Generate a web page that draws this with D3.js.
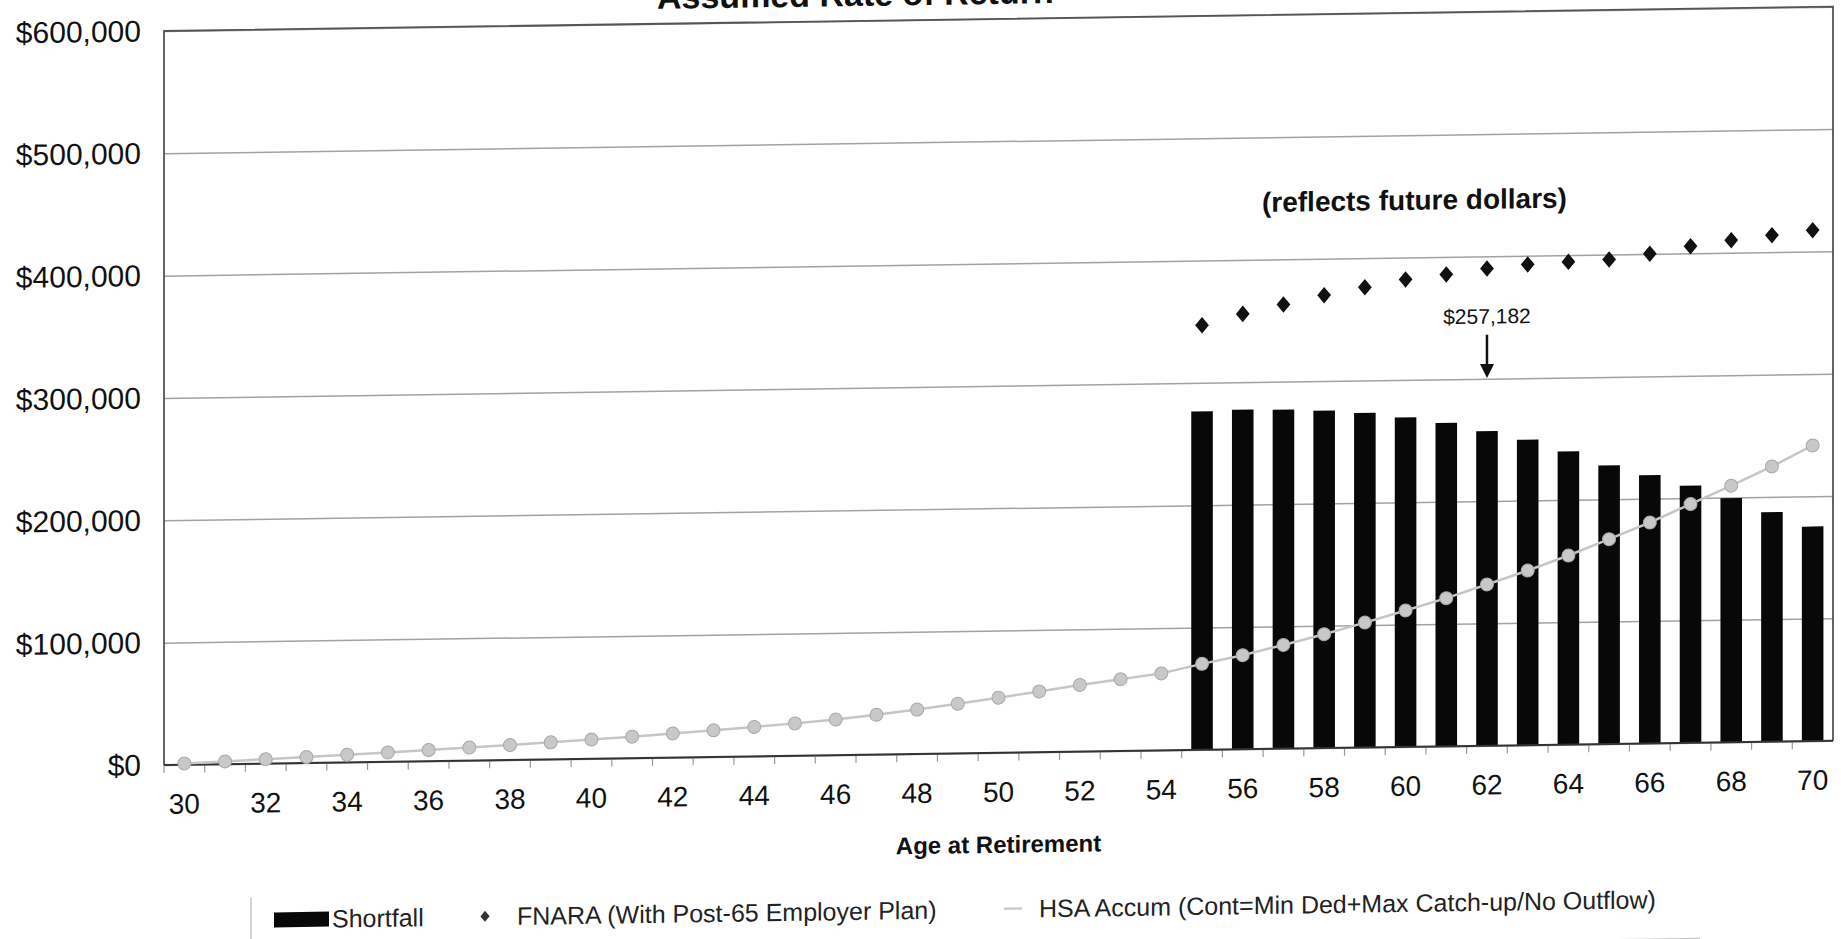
<!DOCTYPE html>
<html>
<head>
<meta charset="utf-8">
<script src="https://cdn.jsdelivr.net/npm/d3@7"></script>
<style>
  body { margin: 0; background: #fff; }
  svg { display: block; font-family: "Liberation Sans", Arial, sans-serif; }
</style>
</head>
<body>
<svg id="Graph"></svg>
<script>
// data
const ages = [30, 31, 32, 33, 34, 35, 36, 37, 38, 39, 40, 41, 42, 43, 44, 45, 46, 47, 48, 49,
              50, 51, 52, 53, 54, 55, 56, 57, 58, 59, 60, 61, 62, 63, 64, 65, 66, 67, 68, 69, 70];
const tickAges = [30, 32, 34, 36, 38, 40, 42, 44, 46, 48, 50, 52, 54, 56, 58, 60, 62, 64, 66, 68, 70];
const yTicks = [0, 100000, 200000, 300000, 400000, 500000, 600000];

const shortfallAges = [55, 56, 57, 58, 59, 60, 61, 62, 63, 64, 65, 66, 67, 68, 69, 70];
const shortfall = [276700, 277600, 277100, 275800, 273500, 269400, 264300, 257182,
                   249700, 239600, 227700, 219300, 210100, 199500, 187600, 175300];
const fnara = [347100, 355900, 363100, 370200, 376200, 382100, 385700, 390100,
               392900, 394600, 396000, 400200, 405900, 410300, 413900, 417500];
const hsaAccum = [1000, 2200, 3500, 4800, 6200, 7600, 9100, 10600, 12200, 13900,
                  15700, 17600, 19700, 21800, 24100, 26500, 29100, 32500, 36300, 40600,
                  45100, 49700, 54500, 58700, 63000, 70300, 76900, 84800, 93100, 102100,
                  111500, 121100, 131800, 142700, 154500, 167400, 180500, 195100, 209600,
                  224900, 241600];

const legendNames = ["Shortfall", "FNARA (With Post-65 Employer Plan)",
                     "HSA Accum (Cont=Min Ded+Max Catch-up/No Outflow)"];

const w = 1841;
const h = 939;
const plotLeft = 164, plotRight = 1833, plotTop = 31, plotBottom = 765;
// the scan is slightly skewed: horizontal lines climb to the right
const slope = -0.01459;
const skewDeg = Math.atan(slope) * 180 / Math.PI;

const svg = d3.select("#Graph")
    .attr("width", w)
    .attr("height", h);

const g = svg.append("g")
    .attr("transform", "translate(0," + (-slope * plotLeft) + ") skewY(" + skewDeg + ")");

// scales
const xScale = d3.scaleBand()
    .domain(ages)
    .range([plotLeft, plotRight])
    .paddingInner(0.47)
    .paddingOuter(0.235);
const yScale = d3.scaleLinear()
    .domain([0, 600000])
    .range([plotBottom, plotTop]);
const cx = a => xScale(a) + xScale.bandwidth() / 2;

// grid + y labels
const yAxis = g.append("g")
    .attr("transform", "translate(" + plotLeft + ",0)")
    .call(d3.axisLeft(yScale)
        .tickValues(yTicks)
        .tickSize(-(plotRight - plotLeft))
        .tickPadding(23)
        .tickFormat(d => "$" + d3.format(",")(d)));
yAxis.select(".domain").remove();
yAxis.selectAll("line").attr("stroke", "#a2a2a2").attr("stroke-width", 1.5);
yAxis.selectAll("text")
    .attr("font-size", "30px")
    .attr("fill", "#111")
    .attr("font-family", "Liberation Sans, Arial, sans-serif");

// x labels
const xAxis = g.append("g")
    .attr("transform", "translate(0," + plotBottom + ")")
    .call(d3.axisBottom(xScale).tickValues(tickAges).tickSize(0).tickPadding(29));
xAxis.select(".domain").remove();
xAxis.selectAll("text")
    .attr("font-size", "28px")
    .attr("fill", "#111")
    .attr("font-family", "Liberation Sans, Arial, sans-serif");

// small tick marks between categories
const step = xScale.step();
g.append("g").selectAll("line")
    .data(ages)
    .enter()
    .append("line")
    .attr("x1", d => cx(d) - step / 2)
    .attr("x2", d => cx(d) - step / 2)
    .attr("y1", plotBottom)
    .attr("y2", plotBottom + 8)
    .attr("stroke", "#999")
    .attr("stroke-width", 1.2);

// bars
g.append("g").selectAll("rect")
    .data(shortfallAges)
    .enter()
    .append("rect")
    .attr("x", d => xScale(d))
    .attr("y", (d, i) => yScale(shortfall[i]))
    .attr("width", xScale.bandwidth())
    .attr("height", (d, i) => yScale(0) - yScale(shortfall[i]))
    .attr("fill", "#080808");

// frame
g.append("path")
    .attr("d", "M" + plotLeft + "," + plotBottom + "V" + plotTop + "H" + plotRight + "V" + plotBottom)
    .attr("fill", "none")
    .attr("stroke", "#555")
    .attr("stroke-width", 1.8);
g.append("line")
    .attr("x1", plotLeft).attr("x2", plotRight)
    .attr("y1", plotBottom).attr("y2", plotBottom)
    .attr("stroke", "#333")
    .attr("stroke-width", 2);

// HSA line
const hsaLine = d3.line()
    .x((d, i) => cx(ages[i]))
    .y(d => yScale(d));
g.append("path")
    .datum(hsaAccum)
    .attr("d", hsaLine)
    .attr("fill", "none")
    .attr("stroke", "#c6c6c6")
    .attr("stroke-width", 2.5);
g.append("g").selectAll("circle")
    .data(hsaAccum)
    .enter()
    .append("circle")
    .attr("cx", (d, i) => cx(ages[i]))
    .attr("cy", d => yScale(d))
    .attr("r", 6.5)
    .attr("fill", "#c8c8c8")
    .attr("stroke", "#a9a9a9")
    .attr("stroke-width", 1);

// FNARA diamonds: a square turned 45 degrees, a bit taller than wide
const diamondPath = d3.symbol().type(d3.symbolSquare).size(95);
g.append("g").selectAll("path")
    .data(fnara)
    .enter()
    .append("path")
    .attr("d", diamondPath)
    .attr("transform", (d, i) => "translate(" + cx(shortfallAges[i]) + "," + yScale(d) + ") scale(1,1.2) rotate(45)")
    .attr("fill", "#111");

// annotation on the age 62 bar
const annAge = 62;
const annIdx = shortfallAges.indexOf(annAge);
g.append("text")
    .attr("x", cx(annAge))
    .attr("y", yScale(345000))
    .attr("text-anchor", "middle")
    .attr("font-size", "21px")
    .attr("fill", "#111")
    .text("$" + d3.format(",")(shortfall[annIdx]));
g.append("line")
    .attr("x1", cx(annAge)).attr("x2", cx(annAge))
    .attr("y1", yScale(336000)).attr("y2", yScale(311000))
    .attr("stroke", "#111")
    .attr("stroke-width", 2.5);
g.append("path")
    .attr("d", "M" + (cx(annAge) - 7) + "," + yScale(312000) +
        "L" + (cx(annAge) + 7) + "," + yScale(312000) +
        "L" + cx(annAge) + "," + yScale(300500) + "Z")
    .attr("fill", "#111");

// texts
g.append("text")
    .attr("x", 657)
    .attr("y", 16)
    .attr("font-size", "34px")
    .attr("font-weight", "bold")
    .attr("fill", "#111")
    .text("Assumed Rate of Return");
g.append("text")
    .attr("x", 1262)
    .attr("y", 228)
    .attr("font-size", "28px")
    .attr("font-weight", "bold")
    .attr("fill", "#111")
    .text("(reflects future dollars)");
g.append("text")
    .attr("x", (plotLeft + plotRight) / 2)
    .attr("y", 865)
    .attr("text-anchor", "middle")
    .attr("font-size", "24px")
    .attr("font-weight", "bold")
    .attr("fill", "#111")
    .text("Age at Retirement");

// legend
const lg = g.append("g").attr("transform", "translate(0,921)");
lg.append("path")
    .attr("d", "M251,-22V40H1700")
    .attr("fill", "none")
    .attr("stroke", "#c4c4c4")
    .attr("stroke-width", 1.5);
lg.append("rect")
    .attr("x", 274).attr("y", -7)
    .attr("width", 55).attr("height", 15)
    .attr("fill", "#080808");
lg.append("path")
    .attr("d", d3.symbol().type(d3.symbolSquare).size(42))
    .attr("transform", "translate(485,0) scale(1,1.2) rotate(45)")
    .attr("fill", "#333");
lg.append("line")
    .attr("x1", 1004).attr("x2", 1022)
    .attr("y1", 0).attr("y2", 0)
    .attr("stroke", "#ccc")
    .attr("stroke-width", 2.5);
lg.selectAll("text")
    .data(legendNames)
    .enter()
    .append("text")
    .attr("x", (d, i) => [332, 517, 1039][i])
    .attr("y", 9)
    .attr("font-size", "25px")
    .attr("fill", "#222")
    .text(d => d);
</script>
</body>
</html>
